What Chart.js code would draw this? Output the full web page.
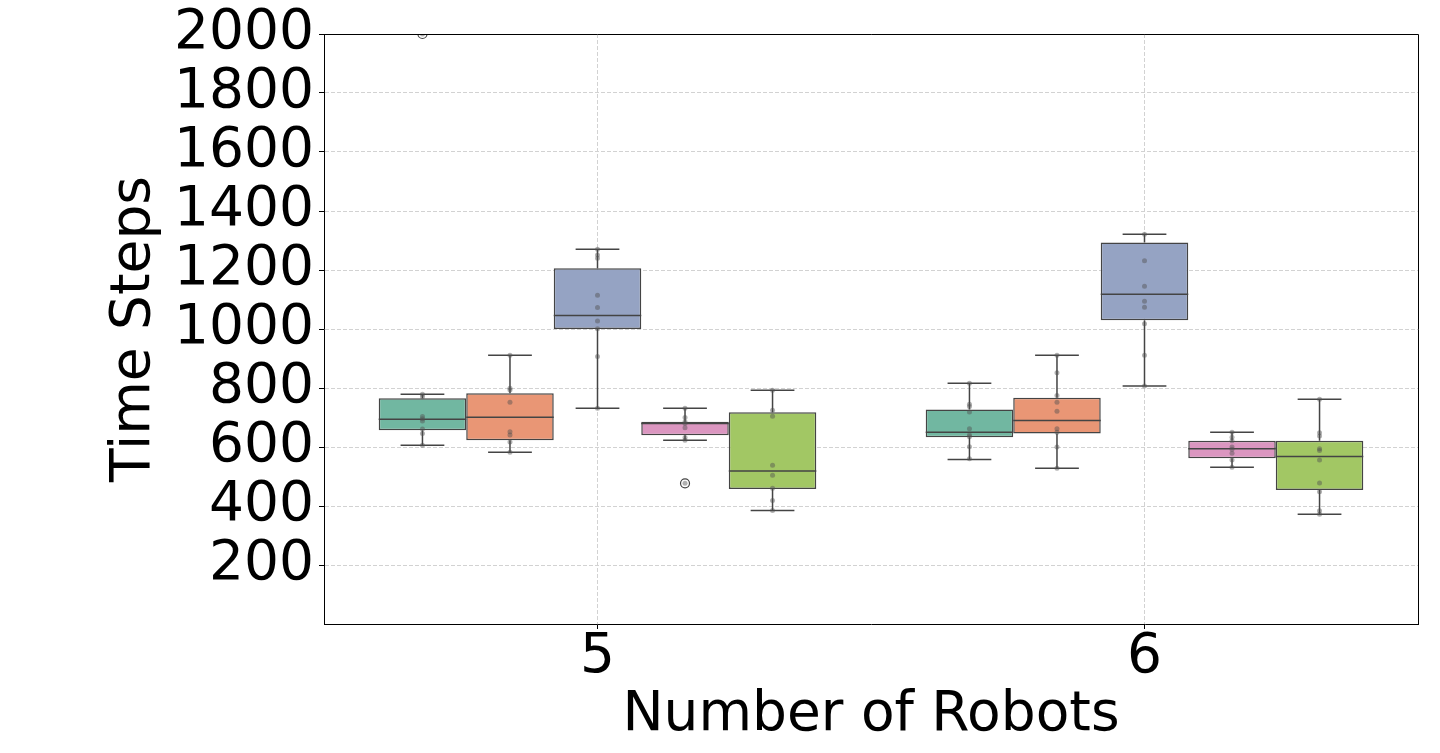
<!DOCTYPE html>
<html>
<head>
<meta charset="utf-8">
<script src="https://cdn.jsdelivr.net/npm/chart.js@4.4.1/dist/chart.umd.min.js"></script>
<style>
  body { margin: 0; background: #fff; }
  canvas { display: block; }
</style>
</head>
<body>
<canvas id="boxChart" width="1440" height="753"></canvas>
<script>
// categories on the x axis
const categories = ["5", "6"];
const seriesNames = ["Series 1", "Series 2", "Series 3", "Series 4", "Series 5"];

// box statistics, one row per series, one value per category
const whiskerLow  = [[606, 558], [582, 528], [731, 807], [623, 531], [385, 372]];
const q1          = [[657, 633], [623, 646], [1000, 1030], [640, 562], [458, 454]];
const median      = [[694, 650], [701, 690], [1046, 1118], [680, 594], [519, 568]];
const q3          = [[765, 727], [782, 767], [1206, 1293], [686, 621], [718, 621]];
const whiskerHigh = [[779, 816], [911, 911], [1270, 1321], [731, 650], [792, 762]];
const outliers    = [[[2000], []], [[], []], [[], []], [[477], []], [[], []]];

// individual runs (strip points)
const points1 = [[2000, 779, 770, 703, 696, 688, 661, 646, 606], [816, 745, 737, 719, 662, 641, 635, 601, 560]];
const points2 = [[911, 799, 793, 752, 652, 641, 617, 582], [911, 852, 775, 752, 721, 662, 650, 600, 528]];
const points3 = [[1270, 1251, 1240, 1114, 1073, 1027, 1001, 907, 731], [1321, 1231, 1145, 1094, 1074, 1018, 911, 807]];
const points4 = [[731, 700, 686, 680, 665, 632, 623, 477], [650, 633, 621, 600, 592, 579, 556, 531]];
const points5 = [[792, 725, 704, 538, 504, 460, 419, 385], [762, 648, 637, 594, 588, 556, 478, 448, 384, 372]];
const allPoints = [points1, points2, points3, points4, points5];

const yTicks = [200, 400, 600, 800, 1000, 1200, 1400, 1600, 1800, 2000];

const fills = ["#71b7a1", "#e99675", "#95a3c3", "#db96c0", "#a2c764"];
const lineColor = "#444444";
const gridColor = "#d2d2d2";
const FONT = "DejaVu Sans";

// whiskers, medians, strip points and fliers drawn on top of the bars
const boxParts = {
  id: "boxParts",
  afterDatasetsDraw(chart) {
    const ctx = chart.ctx;
    const y = chart.scales.y;
    const area = chart.chartArea;
    ctx.save();
    ctx.beginPath();
    ctx.rect(area.left, area.top, area.right - area.left, area.bottom - area.top);
    ctx.clip();
    chart.data.datasets.forEach((ds, i) => {
      const meta = chart.getDatasetMeta(i);
      meta.data.forEach((bar, j) => {
        const cx = bar.x;
        const half = bar.width / 2;
        ctx.strokeStyle = lineColor;
        ctx.lineWidth = 1.5;
        ctx.beginPath();
        // whiskers
        ctx.moveTo(cx, y.getPixelForValue(q3[i][j]));
        ctx.lineTo(cx, y.getPixelForValue(whiskerHigh[i][j]));
        ctx.moveTo(cx, y.getPixelForValue(q1[i][j]));
        ctx.lineTo(cx, y.getPixelForValue(whiskerLow[i][j]));
        // caps
        const hiY = y.getPixelForValue(whiskerHigh[i][j]);
        const loY = y.getPixelForValue(whiskerLow[i][j]);
        ctx.moveTo(cx - half / 2, hiY);
        ctx.lineTo(cx + half / 2, hiY);
        ctx.moveTo(cx - half / 2, loY);
        ctx.lineTo(cx + half / 2, loY);
        // median
        const mY = y.getPixelForValue(median[i][j]);
        ctx.moveTo(cx - half, mY);
        ctx.lineTo(cx + half, mY);
        ctx.stroke();

        // fliers
        outliers[i][j].forEach(v => {
          ctx.beginPath();
          ctx.arc(cx, y.getPixelForValue(v), 4.5, 0, Math.PI * 2);
          ctx.lineWidth = 1.2;
          ctx.stroke();
        });

        // strip points
        ctx.fillStyle = "rgba(80,80,80,0.45)";
        allPoints[i][j].forEach(v => {
          ctx.beginPath();
          ctx.arc(cx, y.getPixelForValue(v), 2.5, 0, Math.PI * 2);
          ctx.fill();
        });
      });
    });
    ctx.restore();
  },
  afterDraw(chart) {
    // top and right spines
    const ctx = chart.ctx;
    const a = chart.chartArea;
    ctx.save();
    ctx.strokeStyle = "#000";
    ctx.lineWidth = 1;
    ctx.beginPath();
    ctx.moveTo(a.left, a.top + 0.5);
    ctx.lineTo(a.right + 0.5, a.top + 0.5);
    ctx.lineTo(a.right + 0.5, a.bottom);
    ctx.stroke();
    ctx.restore();
  }
};

const datasets = seriesNames.map((name, i) => ({
  label: name,
  data: categories.map((c, j) => [q1[i][j], q3[i][j]]),
  backgroundColor: fills[i],
  borderColor: lineColor,
  borderWidth: 1.5,
  borderSkipped: false,
  categoryPercentage: 0.8,
  barPercentage: 1.0
}));

new Chart(document.getElementById("boxChart").getContext("2d"), {
  type: "bar",
  data: { labels: categories, datasets: datasets },
  options: {
    responsive: false,
    animation: false,
    layout: { padding: { top: 34, right: 22, left: 0, bottom: 0 } },
    plugins: { legend: { display: false }, tooltip: { enabled: false } },
    scales: {
      x: {
        afterFit: s => { s.height = 129; },
        grid: {
          offset: false,
          color: gridColor,
          lineWidth: 1,
          tickColor: "#000",
          tickLength: 5,
          tickWidth: 1,
          tickBorderDash: []
        },
        border: { display: true, color: "#000", width: 1, dash: [4, 2] },
        ticks: { color: "#000", padding: 1, font: { family: FONT, size: 55, lineHeight: 1 } },
        title: {
          display: true,
          text: "Number of Robots",
          color: "#000",
          font: { family: FONT, size: 55, lineHeight: 1.2 },
          padding: { top: 0, bottom: 4 }
        }
      },
      y: {
        min: 0,
        max: 2000,
        afterFit: s => { s.width = 324; },
        afterBuildTicks: s => { s.ticks = yTicks.map(v => ({ value: v })); },
        grid: {
          color: gridColor,
          lineWidth: 1,
          tickColor: "#000",
          tickLength: 5,
          tickWidth: 1,
          tickBorderDash: []
        },
        border: { display: true, color: "#000", width: 1, dash: [4, 2] },
        ticks: {
          color: "#000",
          padding: 5,
          font: { family: FONT, size: 55, lineHeight: 1 },
          callback: v => String(v)
        },
        title: {
          display: true,
          text: "Time Steps",
          color: "#000",
          font: { family: FONT, size: 55, lineHeight: 1.2 },
          padding: { top: 102, bottom: 0 }
        }
      }
    }
  },
  plugins: [boxParts]
});
</script>
</body>
</html>
